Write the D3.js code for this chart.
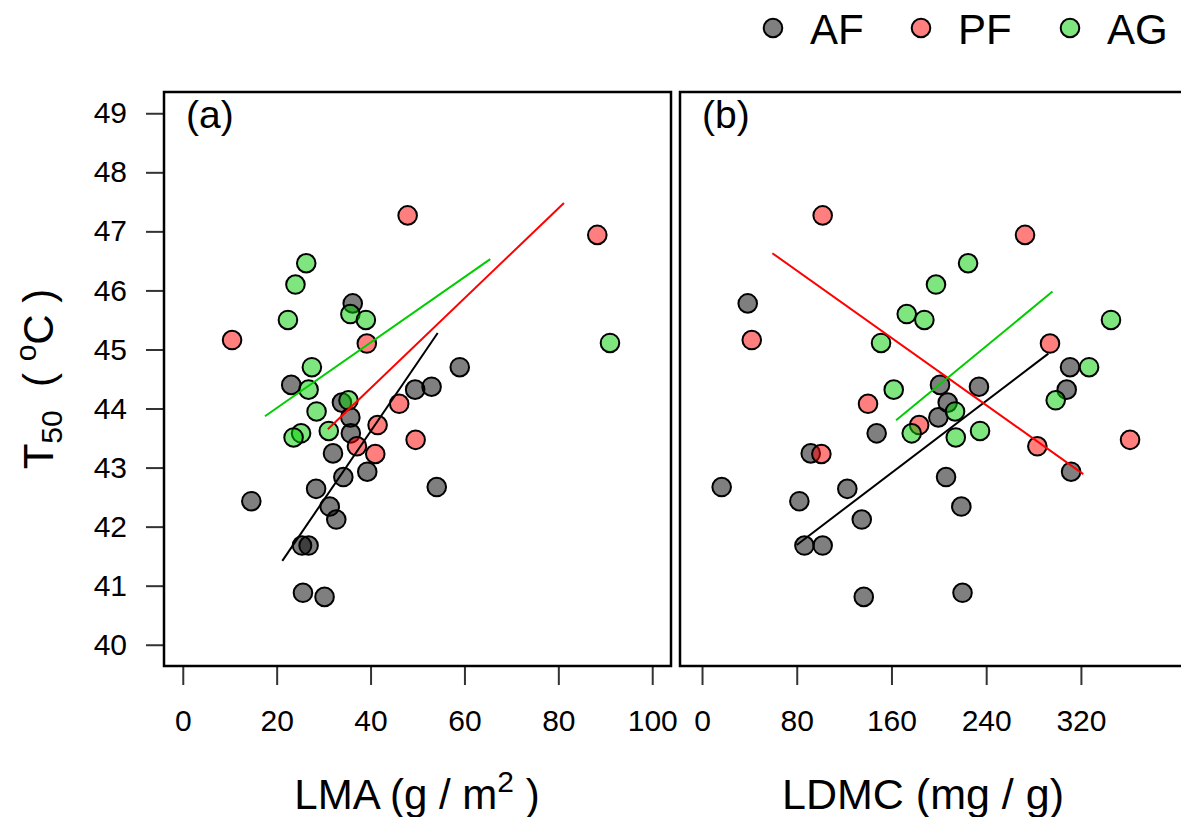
<!doctype html>
<html lang="en">
<head>
<meta charset="utf-8">
<title>T50 vs LMA and LDMC</title>
<script src="https://cdn.jsdelivr.net/npm/d3@7"></script>
<style>
  body { margin: 0; background: #fff; }
  svg text { font-family: "Liberation Sans", Arial, sans-serif; fill: #000; }
</style>
</head>
<body>
<svg id="chart" width="1181" height="817"></svg>
<script>
// groups and colours
var groups = ["AF", "PF", "AG"];
var fills = ["rgba(0,0,0,0.5)", "rgba(255,0,0,0.5)", "rgba(0,205,0,0.5)"];
var lineColors = ["#000000", "#ff0000", "#00cd00"];

// AF
var afT50 = [45.78, 44.70, 44.40, 44.32, 44.37, 44.10, 43.85, 43.58, 43.24, 42.93, 42.84, 42.67, 42.64, 42.43, 42.34, 42.12, 41.68, 41.68, 40.88, 40.81];
var afLMA = [36.2, 59.0, 23.1, 49.5, 53.0, 33.9, 35.7, 35.8, 32.0, 39.3, 34.2, 54.1, 28.4, 14.6, 31.3, 32.7, 25.4, 26.8, 25.6, 30.2];
var afLDMC = [38.6, 310.8, 201.0, 308.0, 233.9, 207.5, 199.6, 147.5, 91.8, 311.7, 206.1, 16.6, 122.7, 82.2, 219.0, 134.9, 86.5, 101.9, 220.0, 136.6];

// PF
var pfT50 = [47.27, 46.94, 45.16, 45.10, 44.08, 43.72, 43.47, 43.36, 43.23];
var pfLMA = [47.9, 88.3, 10.5, 39.2, 46.1, 41.5, 49.6, 37.1, 41.0];
var pfLDMC = [101.9, 272.8, 42.0, 293.9, 140.2, 183.4, 361.5, 283.2, 100.8];

// AG
var agT50 = [46.46, 46.10, 45.60, 45.50, 45.50, 45.11, 44.70, 44.32, 44.14, 43.95, 43.62, 43.58, 43.51];
var agLMA = [26.3, 24.0, 35.7, 22.4, 39.0, 91.0, 27.5, 26.8, 35.3, 28.5, 31.1, 25.2, 23.6];
var agLDMC = [224.7, 197.6, 172.9, 187.8, 345.4, 151.2, 326.9, 161.9, 298.7, 213.7, 234.8, 177.1, 214.3];

// fitted line end points [x1, y1, x2, y2]
var fitLMA = [[21.2, 41.42, 54.3, 45.28], [30.9, 43.65, 81.2, 47.48], [17.5, 43.87, 65.5, 46.53]];
var fitLDMC = [[80.0, 41.69, 292.5, 44.93], [59.4, 46.63, 322.0, 42.89], [163.9, 43.80, 296.0, 45.98]];

// ticks
var yTicks = [40, 41, 42, 43, 44, 45, 46, 47, 48, 49];
var lmaTicks = [0, 20, 40, 60, 80, 100];
var ldmcTicks = [0, 80, 160, 240, 320];

var svg = d3.select("#chart");
var top_ = 92, bottom = 666;

var y = d3.scaleLinear().domain([39.64, 49.36]).range([bottom, top_]);
var xA = d3.scaleLinear().domain([-4, 104]).range([164, 671]);
var xB = d3.scaleLinear().domain([-18.6, 409.6]).range([680, 1187]);

var T50 = [afT50, pfT50, agT50];
var LMA = [afLMA, pfLMA, agLMA];
var LDMC = [afLDMC, pfLDMC, agLDMC];

function panel(x, xs, fits, ticks, tag, showY) {
    var g = svg.append("g");

    // x axis ticks
    var ax = g.append("g").attr("transform", "translate(0," + bottom + ")")
        .call(d3.axisBottom(x).tickValues(ticks).tickSize(19).tickPadding(25).tickFormat(d3.format("d")));
    ax.select(".domain").remove();
    ax.selectAll("line").attr("stroke", "#333").attr("stroke-width", 2);
    ax.selectAll("text").attr("font-size", 30).style("font-family", "Liberation Sans, Arial, sans-serif");

    if (showY) {
        var ay = g.append("g").attr("transform", "translate(" + x.range()[0] + ",0)")
            .call(d3.axisLeft(y).tickValues(yTicks).tickSize(18).tickPadding(19));
        ay.select(".domain").remove();
        ay.selectAll("line").attr("stroke", "#333").attr("stroke-width", 2);
        ay.selectAll("text").attr("font-size", 30).style("font-family", "Liberation Sans, Arial, sans-serif");
    }

    // points
    groups.forEach(function (name, i) {
        var pts = T50[i].map(function (t, j) { return {x: xs[i][j], y: t}; });
        g.append("g").selectAll("circle").data(pts).enter().append("circle")
            .attr("cx", function (d) { return x(d.x); })
            .attr("cy", function (d) { return y(d.y); })
            .attr("r", 9.3)
            .attr("fill", fills[i])
            .attr("stroke", "#000")
            .attr("stroke-width", 2);
    });

    // fitted lines
    fits.forEach(function (f, i) {
        g.append("line")
            .attr("x1", x(f[0])).attr("y1", y(f[1]))
            .attr("x2", x(f[2])).attr("y2", y(f[3]))
            .attr("stroke", lineColors[i]).attr("stroke-width", 2);
    });

    // box
    g.append("rect")
        .attr("x", x.range()[0]).attr("y", top_)
        .attr("width", x.range()[1] - x.range()[0]).attr("height", bottom - top_)
        .attr("fill", "none").attr("stroke", "#000").attr("stroke-width", 2.5);

    g.append("text").attr("x", x.range()[0] + 22).attr("y", 128)
        .attr("font-size", 39).text(tag);
}

panel(xA, LMA, fitLMA, lmaTicks, "(a)", true);
panel(xB, LDMC, fitLDMC, ldmcTicks, "(b)", false);

// axis titles
var t1 = svg.append("text").attr("x", 417).attr("y", 809).attr("text-anchor", "middle").attr("font-size", 42);
t1.append("tspan").text("LMA (g / m");
t1.append("tspan").attr("font-size", 30).attr("dy", -17).text("2");
t1.append("tspan").attr("dy", 17).text("\u00a0)");

svg.append("text").attr("x", 923).attr("y", 809).attr("text-anchor", "middle")
    .attr("font-size", 43).text("LDMC (mg / g)");

var yl = svg.append("text").attr("transform", "translate(53,379) rotate(-90)")
    .attr("text-anchor", "middle").attr("font-size", 42);
yl.append("tspan").text("T");
yl.append("tspan").attr("font-size", 30).attr("dy", 9).text("50");
yl.append("tspan").attr("dy", -9).text("\u00a0\u00a0(\u00a0");
yl.append("tspan").attr("font-size", 30).attr("dy", -17).text("o");
yl.append("tspan").attr("dy", 17).text("C\u00a0)");

// legend
var legX = [773, 921, 1070];
var leg = svg.append("g");
groups.forEach(function (name, i) {
    leg.append("circle").attr("cx", legX[i]).attr("cy", 28).attr("r", 9.3)
        .attr("fill", fills[i]).attr("stroke", "#000").attr("stroke-width", 2);
    leg.append("text").attr("x", legX[i] + 37).attr("y", 44).attr("font-size", 42).text(name);
});
</script>
</body>
</html>
